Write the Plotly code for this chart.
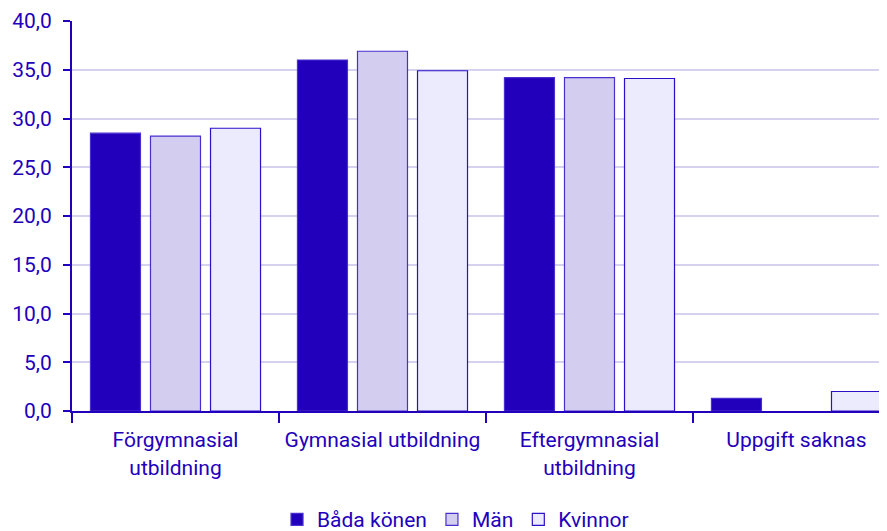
import plotly.graph_objects as go

categories = ["Förgymnasial<br>utbildning", "Gymnasial utbildning", "Eftergymnasial<br>utbildning", "Uppgift saknas"]
series_names = ["Båda könen", "Män", "Kvinnor"]
bada = [28.5, 36.0, 34.2, 1.3]
man = [28.2, 36.9, 34.2, None]
kvinnor = [29.0, 34.9, 34.1, 2.0]
y_ticks = [0, 5, 10, 15, 20, 25, 30, 35, 40]

TXT = "#2200BB"
fills = ["#2200BB", "#D3CDF0", "#ECEBFD"]
lines = ["#4A2FD0", "#4A2FD0", "#2A10C8"]

fig = go.Figure()
for name, vals, fc, lc in zip(series_names, [bada, man, kvinnor], fills, lines):
    fig.add_trace(go.Bar(x=categories, y=vals, name=name,
                         marker=dict(color=fc, line=dict(color=lc, width=1.2))))

fig.update_layout(
    width=887, height=531,
    margin=dict(l=64, r=0, t=13, b=128, autoexpand=False),
    plot_bgcolor="white", paper_bgcolor="white",
    barmode="group", bargap=0.13, bargroupgap=0.167,
    separators=", ",
    font=dict(family="Roboto", size=21, color=TXT),
    showlegend=True,
    legend=dict(orientation="h", x=0.466, xanchor="center",
                y=-0.226, yanchor="top", font=dict(size=21, color=TXT),
                traceorder="normal"),
    xaxis=dict(range=[-0.5, 3.476], showline=True, linecolor=TXT, linewidth=2,
               ticks="outside", tickson="boundaries", ticklen=10, tickwidth=1.5,
               tickcolor=TXT, tickfont=dict(size=21, color=TXT), showgrid=False,
               tickangle=0, automargin=False, ticklabelstandoff=9),
    yaxis=dict(range=[0, 40], tickvals=y_ticks, tickformat=".1f", showline=True,
               linecolor=TXT, linewidth=2, ticks="outside", ticklen=7, tickwidth=1.5,
               tickcolor=TXT, gridcolor="#D5D2F0", gridwidth=1.5,
               tickfont=dict(size=21, color=TXT), zeroline=False, automargin=False,
               ticklabelstandoff=7),
)

fig.write_html("out.html")
